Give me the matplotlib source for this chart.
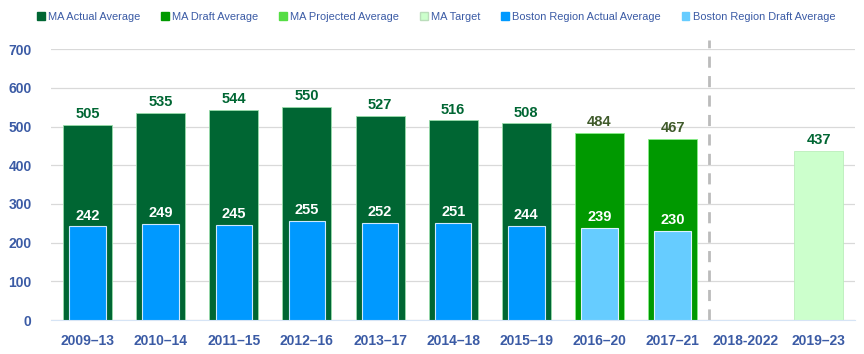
import matplotlib.pyplot as plt
from matplotlib.patches import Patch

periods = ['2009–13', '2010–14', '2011–15', '2012–16', '2013–17', '2014–18',
           '2015–19', '2016–20', '2017–21', '2018-2022', '2019–23']
ma_actual = [505, 535, 544, 550, 527, 516, 508]
ma_draft = [484, 467]
ma_target = [437]
boston_actual = [242, 249, 245, 255, 252, 251, 244]
boston_draft = [239, 230]

actual_idx = list(range(0, 7))
draft_idx = [7, 8]
target_idx = [10]

plt.rcParams['font.family'] = ['Liberation Sans', 'DejaVu Sans']
label_blue = '#3b5ba5'

fig = plt.figure(figsize=(8.64, 3.54), dpi=100)
ax = fig.add_axes([0.059, 0.096, 0.931, 0.765])

green_w = 0.67
blue_w = 0.5
ax.bar(actual_idx, ma_actual, width=green_w, color='#006633', edgecolor='#99ddaa', linewidth=0.6, zorder=2)
ax.bar(draft_idx, ma_draft, width=green_w, color='#009900', edgecolor='#88ee88', linewidth=0.6, zorder=2)
ax.bar(target_idx, ma_target, width=green_w, color='#ccffcc', edgecolor='#bbeebb', linewidth=0.6, zorder=2)
ax.bar(actual_idx, boston_actual, width=blue_w, color='#0099ff', edgecolor='#cce8ff', linewidth=0.8, zorder=3)
ax.bar(draft_idx, boston_draft, width=blue_w, color='#66ccff', edgecolor='#ddf3ff', linewidth=0.8, zorder=3)

for i, v in zip(actual_idx, ma_actual):
    ax.text(i, v + 10, str(v), ha='center', va='bottom', fontsize=10.5, fontweight='bold', color='#006633')
for i, v in zip(draft_idx, ma_draft):
    ax.text(i, v + 10, str(v), ha='center', va='bottom', fontsize=10.5, fontweight='bold', color='#3f5a2a')
for i, v in zip(target_idx, ma_target):
    ax.text(i, v + 10, str(v), ha='center', va='bottom', fontsize=10.5, fontweight='bold', color='#006633')
for i, v in zip(actual_idx + draft_idx, boston_actual + boston_draft):
    ax.text(i, v + 10, str(v), ha='center', va='bottom', fontsize=10.5, fontweight='bold', color='white', zorder=4)

ax.plot([8.5, 8.5], [0, 725], color='#bbbbbb', linestyle=(0, (4, 3)), linewidth=2, zorder=1, clip_on=False)

ax.set_xlim(-0.5, 10.5)
ax.set_ylim(0, 700)
ax.set_yticks(range(0, 701, 100))
ax.set_xticks(range(len(periods)))
ax.set_xticklabels(periods)
ax.tick_params(axis='both', length=0, labelsize=10, labelcolor=label_blue)
ax.tick_params(axis='x', pad=10)
ax.tick_params(axis='y', pad=14)
for lab in ax.get_xticklabels() + ax.get_yticklabels():
    lab.set_fontweight('bold')
ax.grid(axis='y', color='#d9d9d9', linewidth=0.9, zorder=0)
ax.set_axisbelow(True)
for s in ['top', 'right', 'left']:
    ax.spines[s].set_visible(False)
ax.spines['bottom'].set_color('#d6e4f5')

legend_labels = ['MA Actual Average', 'MA Draft Average', 'MA Projected Average', 'MA Target',
                 'Boston Region Actual Average', 'Boston Region Draft Average']
legend_colors = ['#006633', '#009900', '#55dd44', '#ccffcc', '#0099ff', '#66ccff']
handles = [Patch(facecolor=c, edgecolor='#bbddbb' if c == '#ccffcc' else c) for c in legend_colors]
leg = fig.legend(handles, legend_labels, loc='upper center', bbox_to_anchor=(0.505, 0.995), ncol=6,
                 frameon=False, fontsize=7.9, handlelength=0.7, handleheight=0.7, handletextpad=0.3,
                 columnspacing=1.9, borderaxespad=0.5)
for t in leg.get_texts():
    t.set_color(label_blue)

plt.savefig('out.png', dpi=100)
